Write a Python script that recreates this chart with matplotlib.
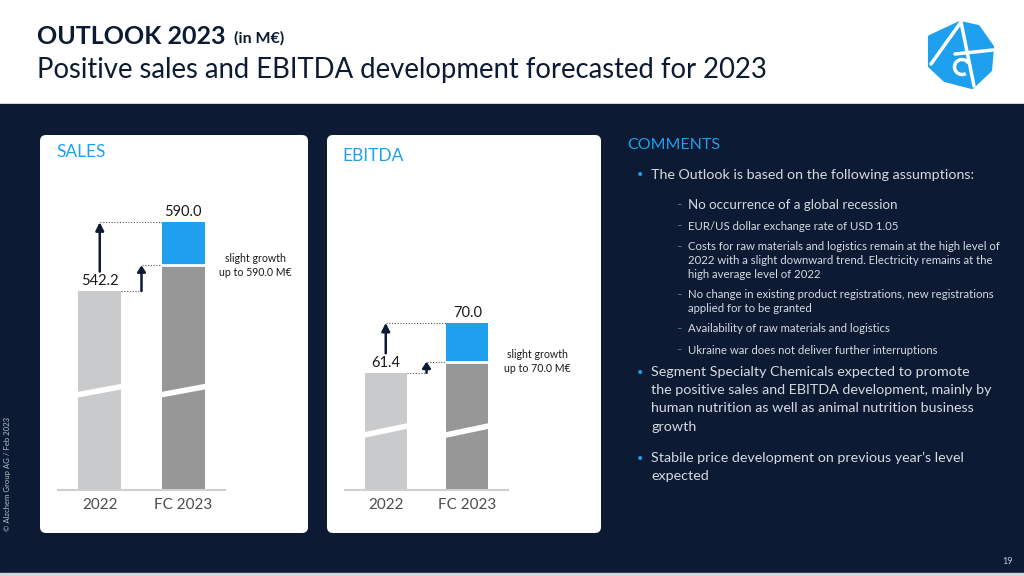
import matplotlib
matplotlib.use("Agg")
import matplotlib.pyplot as plt
from matplotlib.patches import FancyBboxPatch, Rectangle, Polygon, Arc
from matplotlib.transforms import blended_transform_factory

plt.rcParams["font.family"] = ["Lato", "DejaVu Sans"]

# ---- data ----
categories = ["2022", "FC 2023"]
sales_values = [542.2, 590.0]      # 2022 actual, FC 2023 upper end
sales_fc_base = 560.0              # grey part of the FC bar
ebitda_values = [61.4, 70.0]
ebitda_fc_base = 63.3
sales_note = "slight growth\nup to 590.0 M€"
ebitda_note = "slight growth\nup to 70.0 M€"

assumptions = [
    ["No occurrence of a global recession"],
    ["EUR/US dollar exchange rate of USD 1.05"],
    ["Costs for raw materials and logistics remain at the high level of",
     "2022 with a slight downward trend. Electricity remains at the",
     "high average level of 2022"],
    ["No change in existing product registrations, new registrations",
     "applied for to be granted"],
    ["Availability of raw materials and logistics"],
    ["Ukraine war does not deliver further interruptions"],
]
comments_more = [
    ["Segment Specialty Chemicals expected to promote",
     "the positive sales and EBITDA development, mainly by",
     "human nutrition as well as animal nutrition business",
     "growth"],
    ["Stabile price development on previous year\u2019s level",
     "expected"],
]

NAVY = "#0c1b33"
BLUE = "#1ea0ee"
LIGHT = "#c9cacc"
DARK = "#979797"
TXT = "#d6dae1"

W, H = 1024, 576
fig = plt.figure(figsize=(W / 100, H / 100), dpi=100)

# background canvas in pixel coordinates
bg = fig.add_axes([0, 0, 1, 1])
bg.set_xlim(0, W)
bg.set_ylim(H, 0)
bg.axis("off")

bg.add_patch(Rectangle((0, 104), W, 469, color=NAVY, zorder=0))
bg.add_patch(Rectangle((0, 573), W, 3, color="#d3d7dd", zorder=0))

bg.text(37, 36, "OUTLOOK 2023", fontsize=18, fontweight="bold", color=NAVY, va="center")
bg.text(234, 38, "(in M€)", fontsize=11.5, fontweight="bold", color=NAVY, va="center")
bg.text(37, 70, "Positive sales and EBITDA development forecasted for 2023",
        fontsize=19.8, color=NAVY, va="center")

# logo
bg.add_patch(Polygon([(930, 37), (960, 23), (978, 27), (992, 47), (990, 70),
                      (972, 87), (945, 80), (930, 66)],
                     closed=True, color=BLUE, joinstyle="round", lw=3, zorder=2))
bg.plot([931, 961], [64, 22], color="white", lw=2.5, zorder=3, solid_capstyle="round")
bg.plot([961, 974], [22, 86], color="white", lw=2.5, zorder=3, solid_capstyle="round")
bg.plot([955, 993], [54, 50], color="white", lw=2.5, zorder=3, solid_capstyle="round")
bg.add_patch(Arc((962, 67), 15, 15, theta1=60, theta2=330, color="white", lw=2.5, zorder=3))

# panels
for x0, x1 in [(40, 308), (327, 601)]:
    bg.add_patch(FancyBboxPatch((x0 + 6, 141), x1 - x0 - 12, 386,
                                boxstyle="round,pad=6", fc="white", ec="none", zorder=1))
bg.text(56, 152, "SALES", fontsize=12.5, color=BLUE, va="center")
bg.text(342, 156, "EBITDA", fontsize=12.5, color=BLUE, va="center")

# comments
bg.text(627, 145, "COMMENTS", fontsize=11.5, color=BLUE, va="center")
bg.text(637, 175, "•", fontsize=8, color=BLUE, va="center")
bg.text(651, 175, "The Outlook is based on the following assumptions:",
        fontsize=10.3, color=TXT, va="center")
sub_y = [205, 226, 247, 295, 329, 350]
for i, (y0, lines) in enumerate(zip(sub_y, assumptions)):
    bg.text(676, y0, "–", fontsize=7, color="#4d88c4", va="center")
    for k, line in enumerate(lines):
        bg.text(688, y0 + 13.5 * k, line, fontsize=9.6 if i == 0 else 8.2,
                color=TXT, va="center")
for y0, lines in zip([372, 458], comments_more):
    bg.text(637, y0, "•", fontsize=8, color=BLUE, va="center")
    for k, line in enumerate(lines):
        bg.text(651, y0 + 18.2 * k, line, fontsize=10.3, color=TXT, va="center")

bg.text(8, 474, "© Alzchem Group AG / Feb 2023", fontsize=5.6, color="#b8bdc6",
        rotation=90, ha="center", va="center")
bg.text(1013, 561, "19", fontsize=6.5, color="#c3c7ce", ha="right", va="center")


def px_axes(x0, y0, x1, y1):
    return fig.add_axes([x0 / W, 1 - y1 / H, (x1 - x0) / W, (y1 - y0) / H])


def draw_chart(ax, values, fc_base, floor, top, note, breaks):
    bw = 0.52
    ax.set_xlim(-0.5, 1.5)
    ax.set_ylim(floor, top)
    ax.patch.set_alpha(0)
    for s in ["top", "left", "right"]:
        ax.spines[s].set_visible(False)
    ax.spines["bottom"].set_color("#d0d0d0")
    ax.spines["bottom"].set_linewidth(1.5)
    ax.set_yticks([])
    ax.set_xticks([0, 1])
    ax.set_xticklabels(categories, fontsize=11, color="#4d4d4d")
    ax.tick_params(axis="x", length=0, pad=6)

    ax.bar(0, values[0] - floor, bottom=floor, width=bw, color=LIGHT, zorder=2)
    ax.bar(1, fc_base - floor, bottom=floor, width=bw, color=DARK, zorder=2)
    ax.bar(1, values[1] - fc_base, bottom=fc_base, width=bw, color=BLUE, zorder=2)
    ax.plot([1 - bw / 2, 1 + bw / 2], [fc_base, fc_base], color="white", lw=2, zorder=3)

    # axis break marks
    tr = blended_transform_factory(ax.transData, ax.transAxes)
    for c in [0, 1]:
        ax.plot([c - bw / 2 - 0.03, c + bw / 2 + 0.03], breaks, color="white",
                lw=4, transform=tr, zorder=3, solid_capstyle="butt")

    for x, v in [(0, values[0]), (1, values[1])]:
        ax.annotate(f"{v:.1f}", (x, v), xytext=(0, 2), textcoords="offset points",
                    ha="center", va="bottom", fontsize=10.5, color="#1a1a1a")

    dot = dict(color="#555555", lw=0.8, linestyle=(0, (1, 1.5)), zorder=1)
    ax.plot([0, 1 - bw / 2], [values[1], values[1]], **dot)
    ax.plot([bw / 2, 0.5], [values[0], values[0]], **dot)
    ax.plot([0.5, 1 - bw / 2], [fc_base, fc_base], **dot)

    arrow = dict(arrowstyle="-|>,head_length=0.6,head_width=0.3", color=NAVY,
                 lw=1.8, mutation_scale=8, shrinkB=0)
    ax.annotate("", xy=(0, values[1]), xytext=(0, values[0]),
                arrowprops=dict(arrow, shrinkA=14))
    small = dict(arrow, arrowstyle="-|>,head_length=0.45,head_width=0.3", shrinkA=0)
    ax.annotate("", xy=(0.5, fc_base), xytext=(0.5, values[0]), arrowprops=small)

    ax.text(1.86, fc_base, note, ha="center", va="center", fontsize=7.6,
            color="#1a1a1a", linespacing=1.3, clip_on=False)


ax1 = px_axes(58, 180, 225, 490)
draw_chart(ax1, sales_values, sales_fc_base, 404.0, 619.3, sales_note, [0.306, 0.335])
ax2 = px_axes(345, 180, 508, 490)
draw_chart(ax2, ebitda_values, ebitda_fc_base, 41.2, 94.6, ebitda_note, [0.176, 0.208])

fig.savefig("out.png", dpi=100)
